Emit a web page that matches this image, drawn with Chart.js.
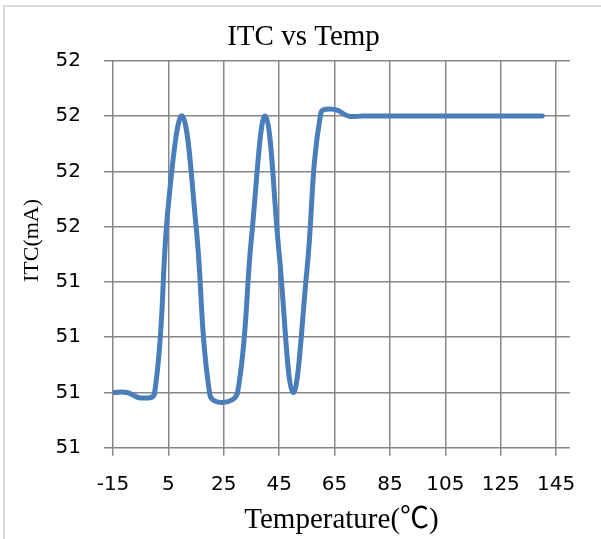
<!DOCTYPE html>
<html>
<head>
<meta charset="utf-8">
<script src="https://cdn.jsdelivr.net/npm/chart.js@4.4.1/dist/chart.umd.min.js"></script>
<style>
  html, body { margin: 0; padding: 0; background: #fff; }
  canvas { display: block; }
</style>
</head>
<body>
<canvas id="chart_itcVsTemp" width="601" height="539"></canvas>
<script>
var temps = [-15, -10, -5, 0, 5, 10, 15, 20, 25, 30, 35, 40, 45, 50, 55, 60, 65, 70,
  75, 80, 85, 90, 95, 100, 105, 110, 115, 120, 125, 130, 135, 140];
var itcValues = [51.2, 51.2, 51.19, 51.198, 51.54, 51.7, 51.5, 51.195, 51.182, 51.2, 51.48, 51.7, 51.45, 51.2, 51.42, 51.705, 51.712, 51.7,
  51.7, 51.7, 51.7, 51.7, 51.7, 51.7, 51.7, 51.7, 51.7, 51.7, 51.7, 51.7, 51.7, 51.7];

var xTickValues = [-15, 5, 25, 45, 65, 85, 105, 125, 145];
var yTickValues = [51.1, 51.2, 51.3, 51.4, 51.5, 51.6, 51.7, 51.8];
// labels as the original shows them (rounded to whole mA)
var yTickLabels = ['51', '51', '51', '51', '52', '52', '52', '52'];

var serif = '"Liberation Serif", "Times New Roman", "Noto Sans CJK SC", serif';
var sans = '"DejaVu Sans", "Open Sans", sans-serif';

var chart_itcVsTemp = new Chart(document.getElementById('chart_itcVsTemp'), {
    type: 'line',
    data: {
        datasets: [{
            label: 'ITC',
            data: temps.map(function (t, i) { return { x: t, y: itcValues[i] }; }),
            borderColor: '#4a7ebb',
            borderWidth: 5,
            borderCapStyle: 'round',
            borderJoinStyle: 'round',
            tension: 0.4,
            pointRadius: 0,
            fill: false
        }]
    },
    options: {
        animation: false,
        responsive: false,
        layout: {
            padding: { left: 6, right: 0, top: 0, bottom: 0 }
        },
        plugins: {
            legend: { display: false },
            tooltip: { enabled: false },
            title: {
                display: true,
                text: 'ITC vs Temp',
                color: '#000',
                font: { family: serif, size: 29, weight: 'normal' },
                padding: { top: 20, bottom: 6 }
            }
        },
        scales: {
            x: {
                type: 'linear',
                min: -15,
                max: 150,
                afterBuildTicks: function (scale) {
                    scale.ticks = xTickValues.map(function (v) { return { value: v }; });
                },
                afterFit: function (scale) { scale.height = 91.3; },
                border: { display: false },
                grid: { color: '#888', lineWidth: 1.5, tickLength: 8 },
                ticks: {
                    color: '#000',
                    padding: 17,
                    maxRotation: 0,
                    font: { family: sans, size: 20 },
                    callback: function (value) { return String(value); }
                },
                title: {
                    display: true,
                    text: 'Temperature(℃)',
                    color: '#000',
                    font: { family: serif, size: 29, weight: 'normal' },
                    padding: { top: 0, bottom: 1 }
                }
            },
            y: {
                type: 'linear',
                min: 51.1,
                max: 51.8,
                afterBuildTicks: function (scale) {
                    scale.ticks = yTickValues.map(function (v) { return { value: v }; });
                },
                afterFit: function (scale) { scale.width = 107; },
                border: { display: false },
                grid: { color: '#888', lineWidth: 1.5, tickLength: 9 },
                ticks: {
                    color: '#000',
                    padding: 23,
                    font: { family: sans, size: 20 },
                    callback: function (value, index) { return yTickLabels[index]; }
                },
                title: {
                    display: true,
                    text: '     ITC(mA)',
                    color: '#000',
                    font: { family: serif, size: 22, weight: 'normal' },
                    padding: { top: 13, bottom: 0 }
                }
            },
            // empty right-hand strip, keeps the plot clear of the frame edge
            y2: {
                type: 'linear',
                position: 'right',
                afterFit: function (scale) { scale.width = 31; },
                border: { display: false },
                grid: { display: false },
                ticks: { display: false }
            }
        }
    },
    plugins: [{
        id: 'frame',
        beforeDraw: function (chart) {
            var ctx = chart.ctx;
            ctx.save();
            ctx.fillStyle = 'white';
            ctx.fillRect(0, 0, chart.width, chart.height);
            ctx.strokeStyle = '#d9d9d9';
            ctx.lineWidth = 2;
            ctx.beginPath();
            ctx.moveTo(4, chart.height);
            ctx.lineTo(4, 6);
            ctx.lineTo(chart.width, 6);
            ctx.stroke();
            ctx.restore();
        }
    }]
});
</script>
</body>
</html>
